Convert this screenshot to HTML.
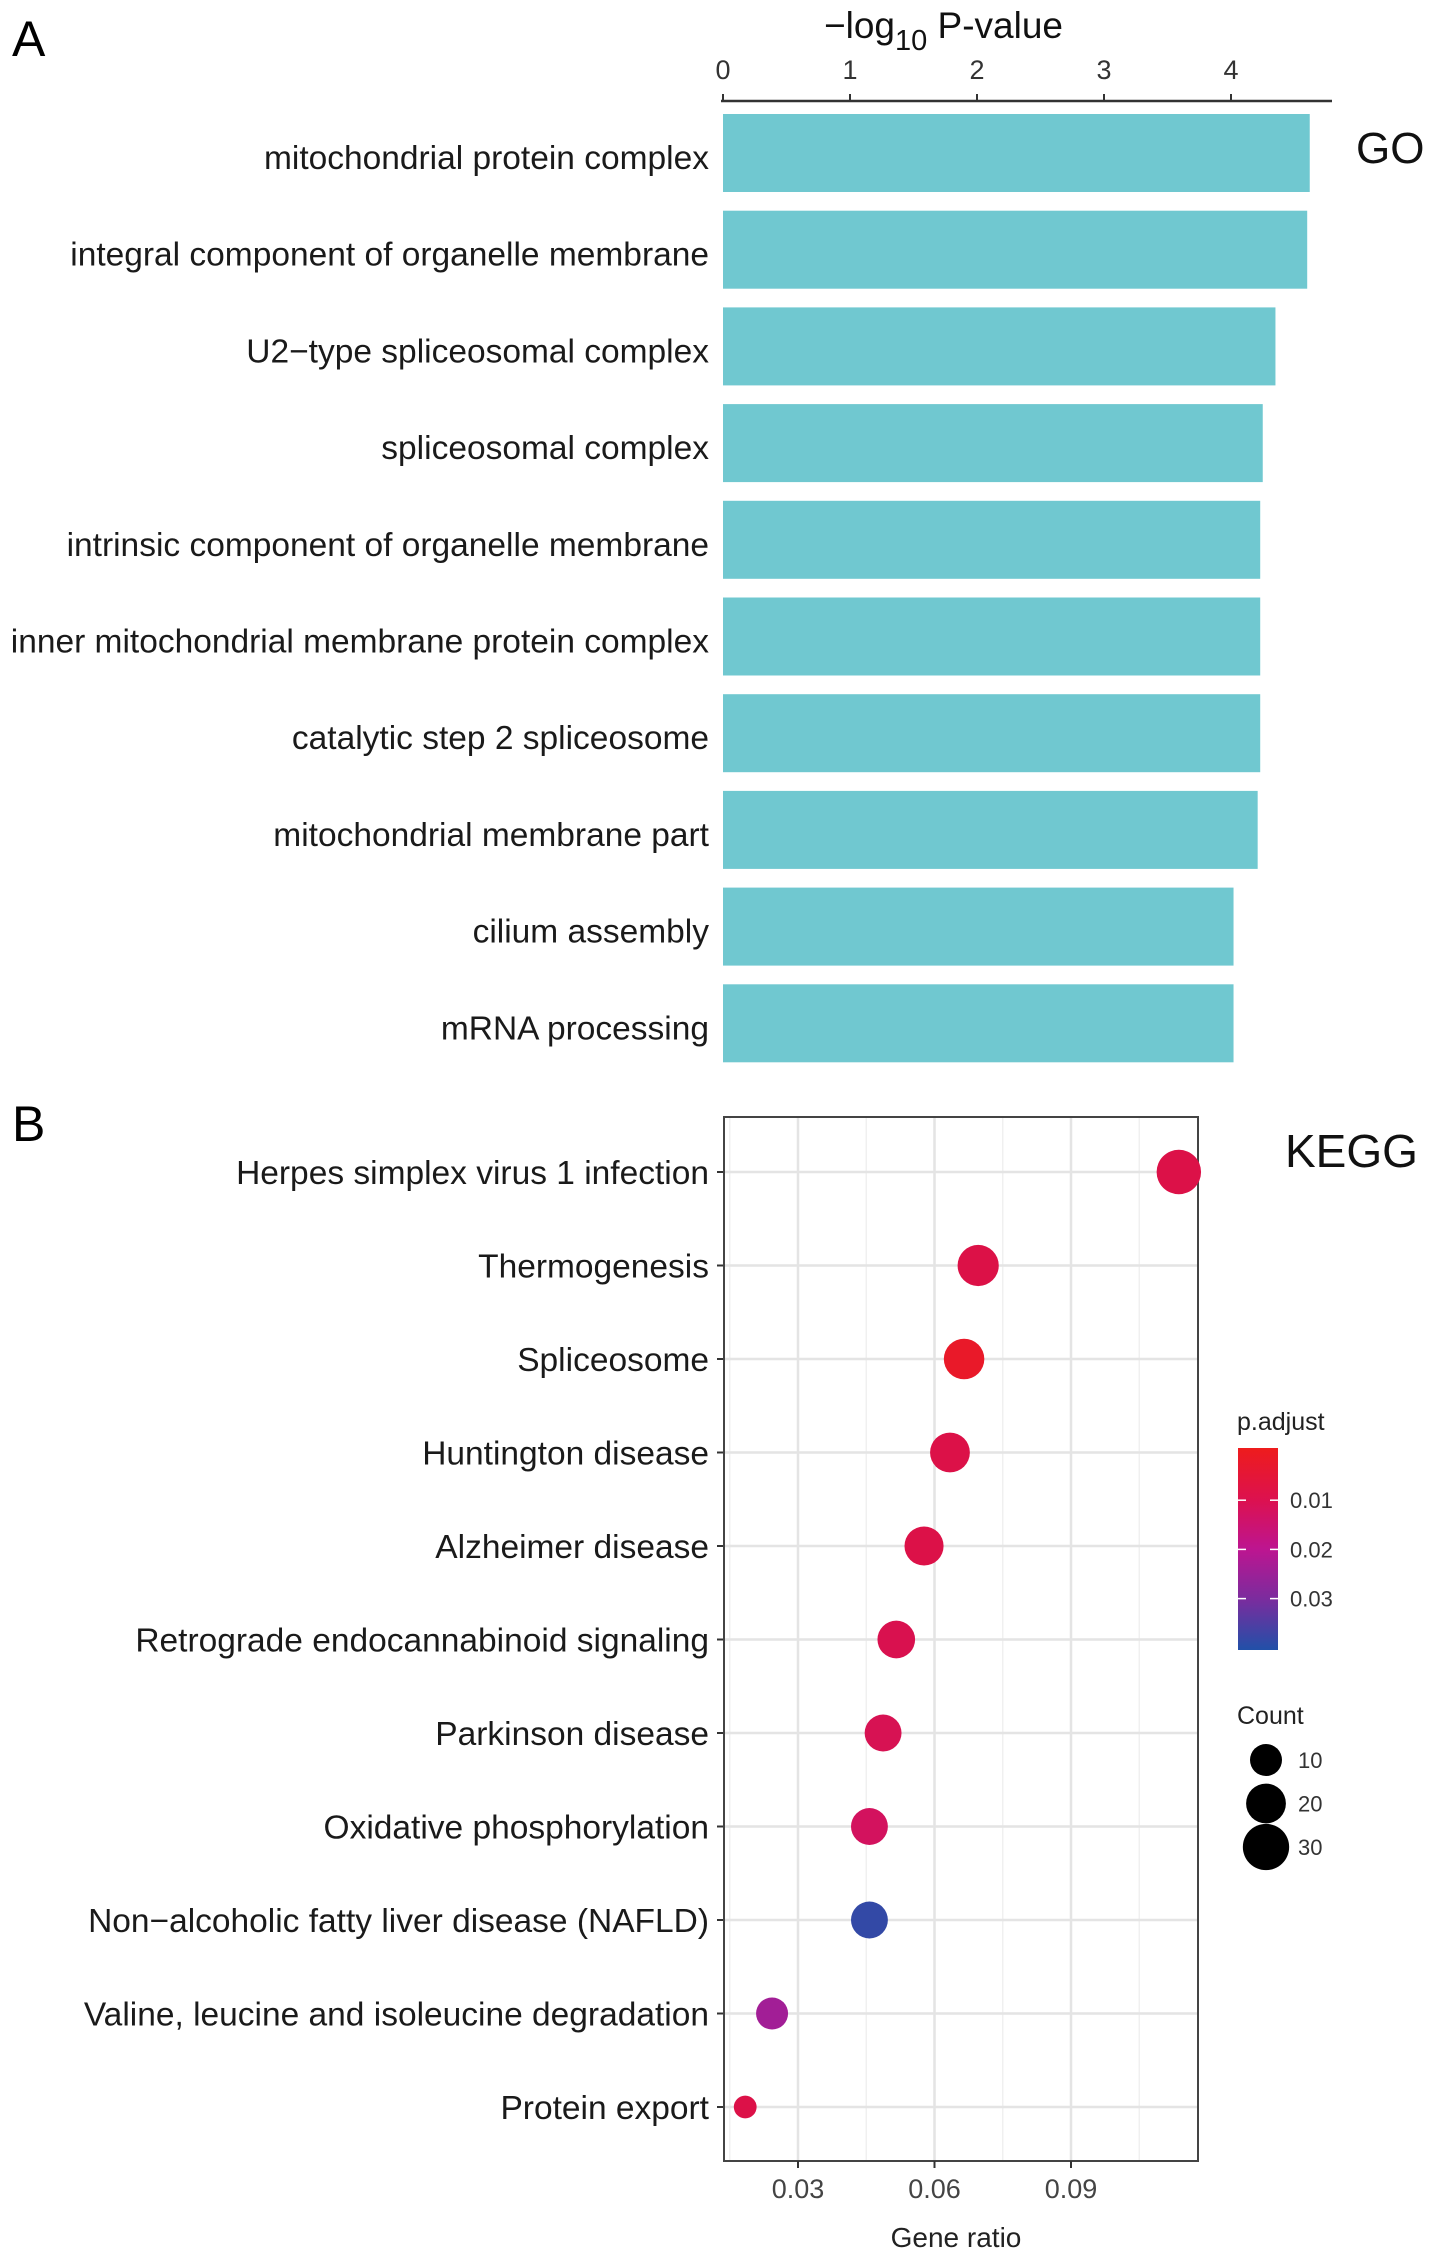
<!DOCTYPE html>
<html><head><meta charset="utf-8"><style>
html,body{margin:0;padding:0;background:#fff}
svg{display:block;font-family:"Liberation Sans",Arial,sans-serif}
</style></head><body>
<svg id="fig" width="1441" height="2261" viewBox="0 0 1441 2261" xmlns="http://www.w3.org/2000/svg">
<defs><linearGradient id="pg" x1="0" y1="0" x2="0" y2="1">
<stop offset="0" stop-color="#ee1c1c"/><stop offset="0.26" stop-color="#dc1150"/><stop offset="0.5" stop-color="#bd1590"/><stop offset="0.75" stop-color="#7a2c9e"/><stop offset="1" stop-color="#2150a8"/></linearGradient></defs>
<text x="12" y="56" font-size="50">A</text>
<text x="12" y="1141" font-size="50">B</text>
<g id="go"></g>
<g id="kegg"></g>
</svg>
<script>
const goTerms=["mitochondrial protein complex","integral component of organelle membrane","U2\u2212type spliceosomal complex","spliceosomal complex","intrinsic component of organelle membrane","inner mitochondrial membrane protein complex","catalytic step 2 spliceosome","mitochondrial membrane part","cilium assembly","mRNA processing"];
const goValues=[4.62,4.60,4.35,4.25,4.23,4.23,4.23,4.21,4.02,4.02];
const goTicks=[0,1,2,3,4];
const keggTerms=["Herpes simplex virus 1 infection","Thermogenesis","Spliceosome","Huntington disease","Alzheimer disease","Retrograde endocannabinoid signaling","Parkinson disease","Oxidative phosphorylation","Non\u2212alcoholic fatty liver disease (NAFLD)","Valine, leucine and isoleucine degradation","Protein export"];
const keggRatio=[0.1137,0.0696,0.0665,0.0634,0.0577,0.0516,0.0487,0.0457,0.0457,0.0243,0.0184];
const keggPadj=[0.0100,0.0098,0.0030,0.0100,0.0100,0.0110,0.0115,0.0130,0.0380,0.0240,0.0100];
const keggCount=[27,22,21,20,19,17,16,16,16,10,1];
const ratioTicks=[0.03,0.06,0.09];
const padjTicks=[0.01,0.02,0.03];
const countTicks=[10,20,30];
const NS="http://www.w3.org/2000/svg";
function mk(p,tag,a,txt){const e=document.createElementNS(NS,tag);for(const k in a)e.setAttribute(k,a[k]);if(txt!==undefined)e.textContent=txt;p.appendChild(e);return e;}
// GO
const go=document.getElementById('go');
const gx=v=>723+v*127;const gy=i=>153+i*96.7;
mk(go,'line',{x1:721,y1:101,x2:1332,y2:101,stroke:'#333','stroke-width':2.5});
goTicks.forEach(t=>{
 const l=mk(go,'line',{x1:gx(t),y1:94,x2:gx(t),y2:101,stroke:'#333','stroke-width':2});
 
 const tx=mk(go,'text',{x:gx(t),y:79,'font-size':27,'text-anchor':'middle',fill:'#333'},String(t));
 
});
const tt=mk(go,'text',{x:824,y:38,'font-size':37,fill:'#111'});

tt.innerHTML='\u2212log<tspan dy="12" font-size="29">10</tspan><tspan dy="-12"> P-value</tspan>';
goTerms.forEach((t,i)=>{
 const r=mk(go,'rect',{x:gx(0),y:gy(i)-39,width:gx(goValues[i])-gx(0),height:78,fill:'#70c8d0'});
 
 const tx=mk(go,'text',{x:709,y:gy(i)+16,'font-size':33.5,'text-anchor':'end',fill:'#1a1a1a'},t);
 
});
const gt=mk(go,'text',{x:1356,y:163,'font-size':44,fill:'#111'},'GO');

// KEGG
const kg=document.getElementById('kegg');
const L=724,R=1198,T=1117,B=2161;
const kx=v=>661.5+v*4550;const ky=i=>1172+i*93.5;
mk(kg,'rect',{x:L,y:T,width:R-L,height:B-T,fill:'#fff'});
[0.015,0.045,0.075,0.105].forEach(v=>mk(kg,'line',{x1:kx(v),y1:T,x2:kx(v),y2:B,stroke:'#f0f0f0','stroke-width':1.5}));
ratioTicks.forEach(v=>mk(kg,'line',{x1:kx(v),y1:T,x2:kx(v),y2:B,stroke:'#e4e4e4','stroke-width':2.5}));
keggTerms.forEach((t,i)=>mk(kg,'line',{x1:L,y1:ky(i),x2:R,y2:ky(i),stroke:'#e4e4e4','stroke-width':2.5}));
const stops=[[0,[238,28,28]],[0.01,[220,17,72]],[0.02,[189,21,144]],[0.03,[122,44,158]],[0.04,[33,80,168]]];
function col(p){for(let k=0;k<stops.length-1;k++){const a=stops[k],b=stops[k+1];if(p<=b[0]||k==stops.length-2){const f=Math.max(0,Math.min(1,(p-a[0])/(b[0]-a[0])));return 'rgb('+a[1].map((c,j)=>Math.round(c+(b[1][j]-c)*f)).join(',')+')';}}}
const rad=c=>Math.sqrt(116+14*c);
keggTerms.forEach((t,i)=>{
 mk(kg,'line',{x1:L-7,y1:ky(i),x2:L,y2:ky(i),stroke:'#333','stroke-width':2});
 const tx=mk(kg,'text',{x:709,y:ky(i)+12,'font-size':33.5,'text-anchor':'end',fill:'#1a1a1a'},t);
 
});
mk(kg,'rect',{x:L,y:T,width:R-L,height:B-T,fill:'none',stroke:'#444','stroke-width':2});
keggTerms.forEach((t,i)=>{
 const c=mk(kg,'circle',{cx:kx(keggRatio[i]),cy:ky(i),r:rad(keggCount[i]),fill:col(keggPadj[i])});
 
});
ratioTicks.forEach(v=>{
 mk(kg,'line',{x1:kx(v),y1:B,x2:kx(v),y2:B+7,stroke:'#333','stroke-width':2});
 const tx=mk(kg,'text',{x:kx(v),y:B+37,'font-size':27,'text-anchor':'middle',fill:'#444'},v.toFixed(2));
 
});
const xt=mk(kg,'text',{x:956,y:2247,'font-size':28,'text-anchor':'middle',fill:'#222'},'Gene ratio');

const kt=mk(kg,'text',{x:1285,y:1167,'font-size':46,fill:'#111'},'KEGG');

// legends
const pt=mk(kg,'text',{x:1237,y:1430,'font-size':25,fill:'#222'},'p.adjust');

const cb=mk(kg,'rect',{x:1238,y:1448,width:40,height:202,fill:'url(#pg)'});

const py=p=>1451+p*4920;
padjTicks.forEach(p=>{
 mk(kg,'line',{x1:1238,y1:py(p),x2:1246,y2:py(p),stroke:'#fff','stroke-width':1.5});
 mk(kg,'line',{x1:1270,y1:py(p),x2:1278,y2:py(p),stroke:'#fff','stroke-width':1.5});
 const tx=mk(kg,'text',{x:1290,y:py(p)+8,'font-size':22,fill:'#333'},p.toFixed(2));
 
});
const ct=mk(kg,'text',{x:1237,y:1724,'font-size':25,fill:'#222'},'Count');

countTicks.forEach((c,k)=>{
 const y=1760+k*43.5;
 const e=mk(kg,'circle',{cx:1266,cy:y,r:rad(c),fill:'#000'});
 
 const tx=mk(kg,'text',{x:1298,y:y+8,'font-size':22,fill:'#333'},String(c));
 
});
</script>
</body></html>
